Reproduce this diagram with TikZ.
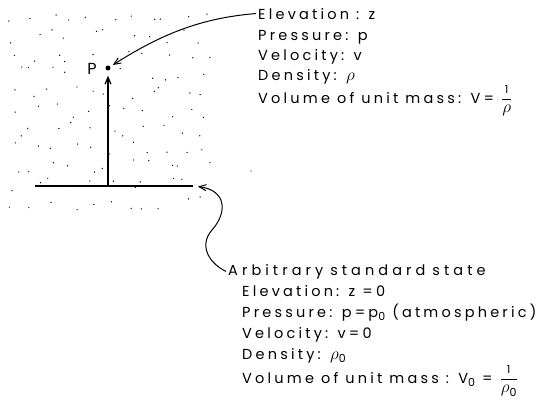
\documentclass[tikz,border=0pt]{standalone}
\usepackage{fontspec}
\setmainfont{Poppins}[LetterSpace=22]
\usetikzlibrary{arrows.meta}
\newcommand\lowsub[1]{\raisebox{-0.5ex}{\fontsize{11}{11}\selectfont #1}}
\newcommand\fnum{\mbox{\fontsize{11}{11}\selectfont 1}}
\newcommand\rh{\mbox{\fontsize{17}{17}\selectfont$\rho$}}
\begin{document}
\begin{tikzpicture}[x=1pt,y=-1pt, font=\fontsize{14.5}{16}\selectfont,
  lbl/.style={anchor=base west, inner sep=0pt},
  conn/.style={line width=1pt, -{Straight Barb[length=7pt,width=6pt]}},
  speck/.style={fill=black}
  ]
\useasboundingbox (0,0) rectangle (542,416);
% stippled region
\pgfmathsetseed{12}
\foreach \i in {0,...,10}{\foreach \j in {0,...,10}{
  \pgfmathsetmacro\xx{14+19*\i+8*rand}
  \pgfmathsetmacro\yy{18+18.5*\j+7*rand}
  \pgfmathtruncatemacro\keep{(\xx>80 && \xx<118 && \yy>55 && \yy<80) ? 0 : 1}
  \ifnum\keep=1 \fill[speck] (\xx,\yy) circle[radius=0.7pt];\fi
}}
\fill[speck] (251,171) circle[radius=0.7pt];
% point P
\node[circle, fill, inner sep=0pt, minimum size=5pt] (pt) at (108,68) {};
\node[anchor=base, inner sep=0pt, font=\fontsize{16}{16}\selectfont] (plabel) at (92,74) {P};
% standard level line
\coordinate (lineL) at (35,186);
\coordinate (lineR) at (193,186);
\coordinate (base) at (108,185);
\draw[line width=1.4pt] (lineL) -- (lineR);
\draw[conn, line width=1.2pt, shorten >=5pt] (base) -- (pt.south);
% upper text
\node[lbl] (e1) at (258,19) {Elevation : z};
\node[lbl] (e2) at (258,40) {Pressure: p};
\node[lbl] (e3) at (258,60) {Velocity: v};
\node[lbl] (e4) at (258,80) {Density: \rh};
\node[lbl] (e5) at (258,103) {Volume of unit mass: V= $\displaystyle\frac{\fnum}{\rh}$};
% lower text
\node[lbl] (s0) at (228,275) {\addfontfeatures{LetterSpace=28}Arbitrary\hspace{7pt}standard\hspace{7pt}state};
\node[lbl] (s1) at (242,296) {Elevation: z =0};
\node[lbl] (s2) at (242,317) {Pressure: p=p\lowsub{0} (atmospheric)};
\node[lbl] (s3) at (242,338) {Velocity: v=0};
\node[lbl] (s4) at (242,359) {Density: \rh\lowsub{0}};
\node[lbl] (s5) at (242,383) {Volume of unit mass : V\lowsub{0} = $\displaystyle\frac{\fnum}{\rh\lowsub{0}}$};
% connectors
\draw[conn, shorten >=3pt] ([xshift=-2pt]e1.west) .. controls (200,18) and (160,35) .. (pt);
\draw[conn, shorten >=5pt] ([xshift=-2pt]s0.west) .. controls (210,264) and (198,246) .. (212,230) .. controls (228,212) and (226,190) .. (lineR);
\end{tikzpicture}
\end{document}
